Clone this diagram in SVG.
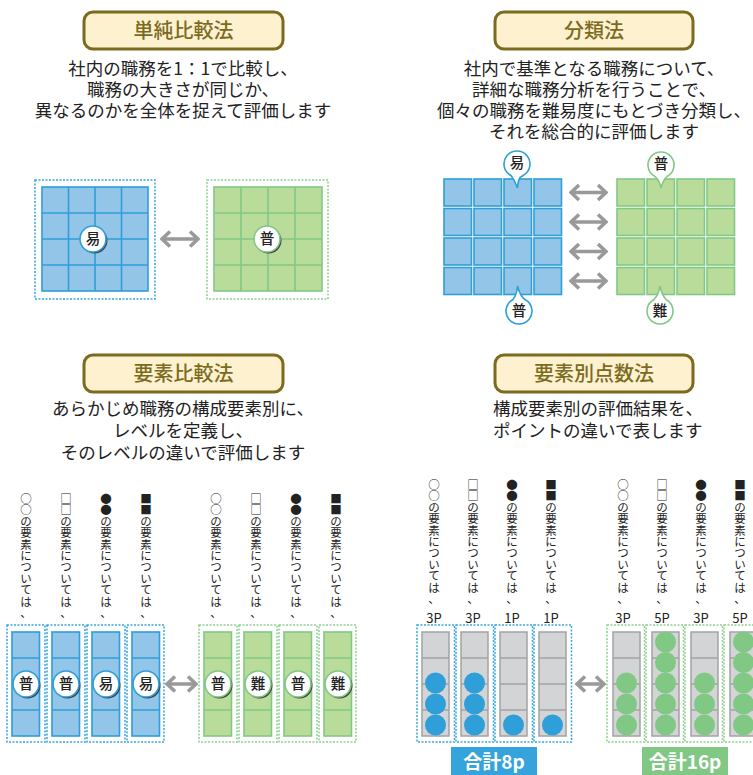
<svg xmlns="http://www.w3.org/2000/svg" width="753" height="775" viewBox="0 0 753 775">
<style>
text{font-family:"Noto Sans CJK JP","Noto Sans",sans-serif;fill:#222}
.tbox{fill:#fdf1cf;stroke:#7b6b1f;stroke-width:3}
.ttl{font-size:20px;fill:#7b6b1f;text-anchor:middle;font-weight:500}
.desc{font-size:17.5px;text-anchor:middle}
.bcell{fill:#93c5e8;stroke:#2e9fd8;stroke-width:1.6}
.gcell{fill:#b9dc9a;stroke:#82c885;stroke-width:1.6}
.bline{stroke:#2e9fd8;stroke-width:1.6;fill:none}
.gline{stroke:#82c885;stroke-width:1.6;fill:none}
.bdot{fill:none;stroke:#3aa6dd;stroke-width:1.5;stroke-dasharray:2 1.5}
.gdot{fill:none;stroke:#8fd08f;stroke-width:1.5;stroke-dasharray:2 1.5}
.gray{fill:#d3d4d6;stroke:#a3a3a3;stroke-width:1.5}
.grline{stroke:#a3a3a3;stroke-width:1.5}
.sh{fill:#444}
.bb{fill:#fff;stroke:#2e9fd8;stroke-width:1.6}
.gb{fill:#fff;stroke:#82c885;stroke-width:1.6}
.bt{font-size:14.5px;text-anchor:middle;font-weight:500}
.vt{font-size:11.5px;text-anchor:middle}
.pt{font-size:13px;text-anchor:middle}
.bc{fill:#2e9fd8}
.gc{fill:#82c885}
.arr{stroke:#999;stroke-width:3.5;fill:none}
.tot{font-size:19px;fill:#fff;text-anchor:middle;font-weight:bold}
</style>
<defs>
<marker id="ah" viewBox="0 0 12 18" markerWidth="12" markerHeight="18" refX="10" refY="9" orient="auto-start-reverse" markerUnits="userSpaceOnUse">
<path d="M2,1.5 L10,9 L2,16.5" stroke="#999" stroke-width="3.5" fill="none"/>
</marker>
</defs>

<!-- ===== Top-left: 単純比較法 ===== -->
<g id="title-tl">
<rect class="tbox" x="84" y="12" width="199" height="37" rx="9"/>
<text class="ttl" x="183.5" y="38">単純比較法</text>
</g>
<g id="desc-tl">
<text class="desc" x="183" y="75">社内の職務を1：1で比較し、</text>
<text class="desc" x="183" y="96">職務の大きさが同じか、</text>
<text class="desc" x="183" y="117">異なるのかを全体を捉えて評価します</text>
</g>
<g id="grid-tl-blue">
<rect class="bdot" x="35" y="180" width="120" height="119"/>
<rect class="bcell" x="42" y="187" width="106" height="104"/>
<path class="bline" d="M68.5,187V291M95,187V291M121.5,187V291M42,213H148M42,239H148M42,265H148"/>
<circle class="sh" cx="94.5" cy="240.5" r="13"/>
<circle class="bb" cx="93" cy="239" r="13"/>
<text class="bt" x="93" y="244">易</text>
</g>
<g id="grid-tl-green">
<rect class="gdot" x="207" y="180" width="121" height="119"/>
<rect class="gcell" x="214" y="187" width="108" height="104"/>
<path class="gline" d="M241,187V291M268,187V291M295,187V291M214,213H322M214,239H322M214,265H322"/>
<circle class="sh" cx="268.5" cy="240.5" r="13"/>
<circle class="gb" cx="267" cy="239" r="13"/>
<text class="bt" x="267" y="244">普</text>
</g>

<!-- ===== Top-right: 分類法 ===== -->
<g id="title-tr">
<rect class="tbox" x="495" y="12" width="198" height="37" rx="9"/>
<text class="ttl" x="594" y="38">分類法</text>
</g>
<g id="desc-tr">
<text class="desc" x="594" y="75">社内で基準となる職務について、</text>
<text class="desc" x="594" y="96">詳細な職務分析を行うことで、</text>
<text class="desc" x="594" y="117">個々の職務を難易度にもとづき分類し、</text>
<text class="desc" x="594" y="138">それを総合的に評価します</text>
</g>
<g id="grid-tr-blue">
<rect class="bcell" x="444" y="179" width="27.5" height="27"/><rect class="bcell" x="474" y="179" width="27.5" height="27"/><rect class="bcell" x="504" y="179" width="27.5" height="27"/><rect class="bcell" x="534" y="179" width="27.5" height="27"/>
<rect class="bcell" x="444" y="208.5" width="27.5" height="27"/><rect class="bcell" x="474" y="208.5" width="27.5" height="27"/><rect class="bcell" x="504" y="208.5" width="27.5" height="27"/><rect class="bcell" x="534" y="208.5" width="27.5" height="27"/>
<rect class="bcell" x="444" y="238" width="27.5" height="27"/><rect class="bcell" x="474" y="238" width="27.5" height="27"/><rect class="bcell" x="504" y="238" width="27.5" height="27"/><rect class="bcell" x="534" y="238" width="27.5" height="27"/>
<rect class="bcell" x="444" y="267.5" width="27.5" height="27"/><rect class="bcell" x="474" y="267.5" width="27.5" height="27"/><rect class="bcell" x="504" y="267.5" width="27.5" height="27"/><rect class="bcell" x="534" y="267.5" width="27.5" height="27"/>
</g>
<g id="grid-tr-green">
<rect class="gcell" x="617" y="179" width="27.5" height="27"/><rect class="gcell" x="647" y="179" width="27.5" height="27"/><rect class="gcell" x="677" y="179" width="27.5" height="27"/><rect class="gcell" x="707" y="179" width="27.5" height="27"/>
<rect class="gcell" x="617" y="208.5" width="27.5" height="27"/><rect class="gcell" x="647" y="208.5" width="27.5" height="27"/><rect class="gcell" x="677" y="208.5" width="27.5" height="27"/><rect class="gcell" x="707" y="208.5" width="27.5" height="27"/>
<rect class="gcell" x="617" y="238" width="27.5" height="27"/><rect class="gcell" x="647" y="238" width="27.5" height="27"/><rect class="gcell" x="677" y="238" width="27.5" height="27"/><rect class="gcell" x="707" y="238" width="27.5" height="27"/>
<rect class="gcell" x="617" y="267.5" width="27.5" height="27"/><rect class="gcell" x="647" y="267.5" width="27.5" height="27"/><rect class="gcell" x="677" y="267.5" width="27.5" height="27"/><rect class="gcell" x="707" y="267.5" width="27.5" height="27"/>
</g>
<g id="bubble-tr-1">
<path class="bb" d="M511,175.5 A13,13 0 1 1 523,175.5 L520,177.5 Q518,181 517.5,188 Q515,181 511,175.5 Z"/>
<text class="bt" x="517" y="168">易</text>
</g>
<g id="bubble-tr-2">
<path class="gb" d="M655,176.5 A13,13 0 1 1 667,176.5 Q663,180 661,188 Q660,181 655,176.5 Z"/>
<text class="bt" x="661" y="169">普</text>
</g>
<g id="bubble-tr-3">
<path class="bb" d="M513,299.5 A13,13 0 1 0 525,299.5 Q520,296 517.5,286 Q517,294 513,299.5 Z"/>
<text class="bt" x="519" y="316">普</text>
</g>
<g id="bubble-tr-4">
<path class="gb" d="M654,299.5 A13,13 0 1 0 666,299.5 Q662,295 660,286 Q659,294 654,299.5 Z"/>
<text class="bt" x="660" y="316">難</text>
</g>

<!-- ===== Bottom-left: 要素比較法 ===== -->
<g id="title-bl">
<rect class="tbox" x="84" y="355" width="199" height="37" rx="9"/>
<text class="ttl" x="183.5" y="381">要素比較法</text>
</g>
<g id="desc-bl">
<text class="desc" x="183" y="415">あらかじめ職務の構成要素別に、</text>
<text class="desc" x="183" y="437">レベルを定義し、</text>
<text class="desc" x="183" y="459">そのレベルの違いで評価します</text>
</g>
<g id="labels-bl">
<text class="vt" x="26 26 26 26 26 26 26 26 26 26 26" y="503 514.4 525.8 537.2 548.6 560 571.4 582.8 594.2 605.6 617">○○の要素については、</text>
<text class="vt" x="66 66 66 66 66 66 66 66 66 66 66" y="503 514.4 525.8 537.2 548.6 560 571.4 582.8 594.2 605.6 617">□□の要素については、</text>
<text class="vt" x="106 106 106 106 106 106 106 106 106 106 106" y="503 514.4 525.8 537.2 548.6 560 571.4 582.8 594.2 605.6 617">●●の要素については、</text>
<text class="vt" x="146 146 146 146 146 146 146 146 146 146 146" y="503 514.4 525.8 537.2 548.6 560 571.4 582.8 594.2 605.6 617">■■の要素については、</text>
<text class="vt" x="216 216 216 216 216 216 216 216 216 216 216" y="503 514.4 525.8 537.2 548.6 560 571.4 582.8 594.2 605.6 617">○○の要素については、</text>
<text class="vt" x="256 256 256 256 256 256 256 256 256 256 256" y="503 514.4 525.8 537.2 548.6 560 571.4 582.8 594.2 605.6 617">□□の要素については、</text>
<text class="vt" x="296 296 296 296 296 296 296 296 296 296 296" y="503 514.4 525.8 537.2 548.6 560 571.4 582.8 594.2 605.6 617">●●の要素については、</text>
<text class="vt" x="336 336 336 336 336 336 336 336 336 336 336" y="503 514.4 525.8 537.2 548.6 560 571.4 582.8 594.2 605.6 617">■■の要素については、</text>
</g>
<g id="bars-bl-blue">
<rect class="bdot" x="7" y="625" width="38" height="117"/>
<rect class="bdot" x="47" y="625" width="38" height="117"/>
<rect class="bdot" x="87" y="625" width="38" height="117"/>
<rect class="bdot" x="127" y="625" width="37" height="117"/>
<rect class="bcell" x="12" y="632" width="27.5" height="104"/>
<rect class="bcell" x="52" y="632" width="27.5" height="104"/>
<rect class="bcell" x="92" y="632" width="27.5" height="104"/>
<rect class="bcell" x="132" y="632" width="27.5" height="104"/>
<path class="bline" d="M12,658H39.5M12,684H39.5M12,710H39.5M52,658H79.5M52,684H79.5M52,710H79.5M92,658H119.5M92,684H119.5M92,710H119.5M132,658H159.5M132,684H159.5M132,710H159.5"/>
<circle class="sh" cx="27.5" cy="685.5" r="13"/><circle class="bb" cx="26" cy="684" r="13"/><text class="bt" x="26" y="689">普</text>
<circle class="sh" cx="67.5" cy="685.5" r="13"/><circle class="bb" cx="66" cy="684" r="13"/><text class="bt" x="66" y="689">普</text>
<circle class="sh" cx="107.5" cy="685.5" r="13"/><circle class="bb" cx="106" cy="684" r="13"/><text class="bt" x="106" y="689">易</text>
<circle class="sh" cx="147.5" cy="685.5" r="13"/><circle class="bb" cx="146" cy="684" r="13"/><text class="bt" x="146" y="689">易</text>
</g>
<g id="bars-bl-green">
<rect class="gdot" x="199" y="625" width="38" height="117"/>
<rect class="gdot" x="239" y="625" width="38" height="117"/>
<rect class="gdot" x="279" y="625" width="38" height="117"/>
<rect class="gdot" x="319" y="625" width="37" height="117"/>
<rect class="gcell" x="204" y="632" width="27.5" height="104"/>
<rect class="gcell" x="244" y="632" width="27.5" height="104"/>
<rect class="gcell" x="284" y="632" width="27.5" height="104"/>
<rect class="gcell" x="324" y="632" width="27.5" height="104"/>
<path class="gline" d="M204,658H231.5M204,684H231.5M204,710H231.5M244,658H271.5M244,684H271.5M244,710H271.5M284,658H311.5M284,684H311.5M284,710H311.5M324,658H351.5M324,684H351.5M324,710H351.5"/>
<circle class="sh" cx="219.5" cy="685.5" r="13"/><circle class="gb" cx="218" cy="684" r="13"/><text class="bt" x="218" y="689">普</text>
<circle class="sh" cx="259.5" cy="685.5" r="13"/><circle class="gb" cx="258" cy="684" r="13"/><text class="bt" x="258" y="689">難</text>
<circle class="sh" cx="299.5" cy="685.5" r="13"/><circle class="gb" cx="298" cy="684" r="13"/><text class="bt" x="298" y="689">普</text>
<circle class="sh" cx="339.5" cy="685.5" r="13"/><circle class="gb" cx="338" cy="684" r="13"/><text class="bt" x="338" y="689">難</text>
</g>

<!-- ===== Bottom-right: 要素別点数法 ===== -->
<g id="title-br">
<rect class="tbox" x="495" y="355" width="198" height="37" rx="9"/>
<text class="ttl" x="594" y="381">要素別点数法</text>
</g>
<g id="desc-br">
<text class="desc" x="493" y="415" style="text-anchor:start">構成要素別の評価結果を、</text>
<text class="desc" x="493" y="437" style="text-anchor:start">ポイントの違いで表します</text>
</g>
<g id="labels-br">
<text class="vt" x="434 434 434 434 434 434 434 434 434 434 434" y="489 500.4 511.8 523.2 534.6 546 557.4 568.8 580.2 591.6 603">○○の要素については、</text>
<text class="vt" x="473 473 473 473 473 473 473 473 473 473 473" y="489 500.4 511.8 523.2 534.6 546 557.4 568.8 580.2 591.6 603">□□の要素については、</text>
<text class="vt" x="512 512 512 512 512 512 512 512 512 512 512" y="489 500.4 511.8 523.2 534.6 546 557.4 568.8 580.2 591.6 603">●●の要素については、</text>
<text class="vt" x="551 551 551 551 551 551 551 551 551 551 551" y="489 500.4 511.8 523.2 534.6 546 557.4 568.8 580.2 591.6 603">■■の要素については、</text>
<text class="vt" x="623 623 623 623 623 623 623 623 623 623 623" y="489 500.4 511.8 523.2 534.6 546 557.4 568.8 580.2 591.6 603">○○の要素については、</text>
<text class="vt" x="662 662 662 662 662 662 662 662 662 662 662" y="489 500.4 511.8 523.2 534.6 546 557.4 568.8 580.2 591.6 603">□□の要素については、</text>
<text class="vt" x="701 701 701 701 701 701 701 701 701 701 701" y="489 500.4 511.8 523.2 534.6 546 557.4 568.8 580.2 591.6 603">●●の要素については、</text>
<text class="vt" x="740 740 740 740 740 740 740 740 740 740 740" y="489 500.4 511.8 523.2 534.6 546 557.4 568.8 580.2 591.6 603">■■の要素については、</text>
<text class="pt" x="434" y="623">3P</text>
<text class="pt" x="473" y="623">3P</text>
<text class="pt" x="512" y="623">1P</text>
<text class="pt" x="551" y="623">1P</text>
<text class="pt" x="623" y="623">3P</text>
<text class="pt" x="662" y="623">5P</text>
<text class="pt" x="701" y="623">3P</text>
<text class="pt" x="740" y="623">5P</text>
</g>
<g id="bars-br-blue">
<rect class="bdot" x="417" y="625" width="37.5" height="117"/>
<rect class="bdot" x="456" y="625" width="37.5" height="117"/>
<rect class="bdot" x="495" y="625" width="37.5" height="117"/>
<rect class="bdot" x="534" y="625" width="37.5" height="117"/>
<rect class="gray" x="422" y="632" width="27" height="104"/>
<rect class="gray" x="461" y="632" width="27" height="104"/>
<rect class="gray" x="500" y="632" width="27" height="104"/>
<rect class="gray" x="539" y="632" width="27" height="104"/>
<path class="grline" d="M422,658H449M422,684H449M422,710H449M461,658H488M461,684H488M461,710H488M500,658H527M500,684H527M500,710H527M539,658H566M539,684H566M539,710H566"/>
<circle class="bc" cx="435.5" cy="725" r="10.5"/><circle class="bc" cx="435.5" cy="704" r="10.5"/><circle class="bc" cx="435.5" cy="683" r="10.5"/>
<circle class="bc" cx="474.5" cy="725" r="10.5"/><circle class="bc" cx="474.5" cy="704" r="10.5"/><circle class="bc" cx="474.5" cy="683" r="10.5"/>
<circle class="bc" cx="513.5" cy="725" r="10.5"/>
<circle class="bc" cx="552.5" cy="725" r="10.5"/>
</g>
<g id="bars-br-green">
<rect class="gdot" x="607" y="625" width="37.5" height="117"/>
<rect class="gdot" x="646" y="625" width="37.5" height="117"/>
<rect class="gdot" x="685" y="625" width="37.5" height="117"/>
<rect class="gdot" x="724" y="625" width="37.5" height="117"/>
<rect class="gray" x="613" y="632" width="27" height="104"/>
<rect class="gray" x="652" y="632" width="27" height="104"/>
<rect class="gray" x="691" y="632" width="27" height="104"/>
<rect class="gray" x="730" y="632" width="27" height="104"/>
<path class="grline" d="M613,658H640M613,684H640M613,710H640M652,658H679M652,684H679M652,710H679M691,658H718M691,684H718M691,710H718M730,658H757M730,684H757M730,710H757"/>
<circle class="gc" cx="626.5" cy="725" r="10.5"/><circle class="gc" cx="626.5" cy="704" r="10.5"/><circle class="gc" cx="626.5" cy="683" r="10.5"/>
<circle class="gc" cx="665.5" cy="725" r="10.5"/><circle class="gc" cx="665.5" cy="704" r="10.5"/><circle class="gc" cx="665.5" cy="683" r="10.5"/><circle class="gc" cx="665.5" cy="662.5" r="10.5"/><circle class="gc" cx="665.5" cy="642" r="10.5"/>
<circle class="gc" cx="704.5" cy="725" r="10.5"/><circle class="gc" cx="704.5" cy="704" r="10.5"/><circle class="gc" cx="704.5" cy="683" r="10.5"/>
<circle class="gc" cx="743.5" cy="725" r="10.5"/><circle class="gc" cx="743.5" cy="704" r="10.5"/><circle class="gc" cx="743.5" cy="683" r="10.5"/><circle class="gc" cx="743.5" cy="662.5" r="10.5"/><circle class="gc" cx="743.5" cy="642" r="10.5"/>
</g>
<g id="total-blue">
<rect x="451" y="747" width="86" height="30" fill="#35a4dc"/>
<text class="tot" x="494" y="769">合計8p</text>
</g>
<g id="total-green">
<rect x="642" y="747" width="86" height="30" fill="#82c885"/>
<text class="tot" x="685" y="769">合計16p</text>
</g>

<!-- ===== Connectors ===== -->
<g id="connectors">
<line class="arr" x1="162" y1="239" x2="198" y2="239" marker-start="url(#ah)" marker-end="url(#ah)"/>
<line class="arr" x1="571" y1="192.5" x2="606" y2="192.5" marker-start="url(#ah)" marker-end="url(#ah)"/>
<line class="arr" x1="571" y1="222" x2="606" y2="222" marker-start="url(#ah)" marker-end="url(#ah)"/>
<line class="arr" x1="571" y1="251.5" x2="606" y2="251.5" marker-start="url(#ah)" marker-end="url(#ah)"/>
<line class="arr" x1="571" y1="281" x2="606" y2="281" marker-start="url(#ah)" marker-end="url(#ah)"/>
<line class="arr" x1="167" y1="684" x2="196" y2="684" marker-start="url(#ah)" marker-end="url(#ah)"/>
<line class="arr" x1="577" y1="684" x2="604" y2="684" marker-start="url(#ah)" marker-end="url(#ah)"/>
</g>
</svg>
